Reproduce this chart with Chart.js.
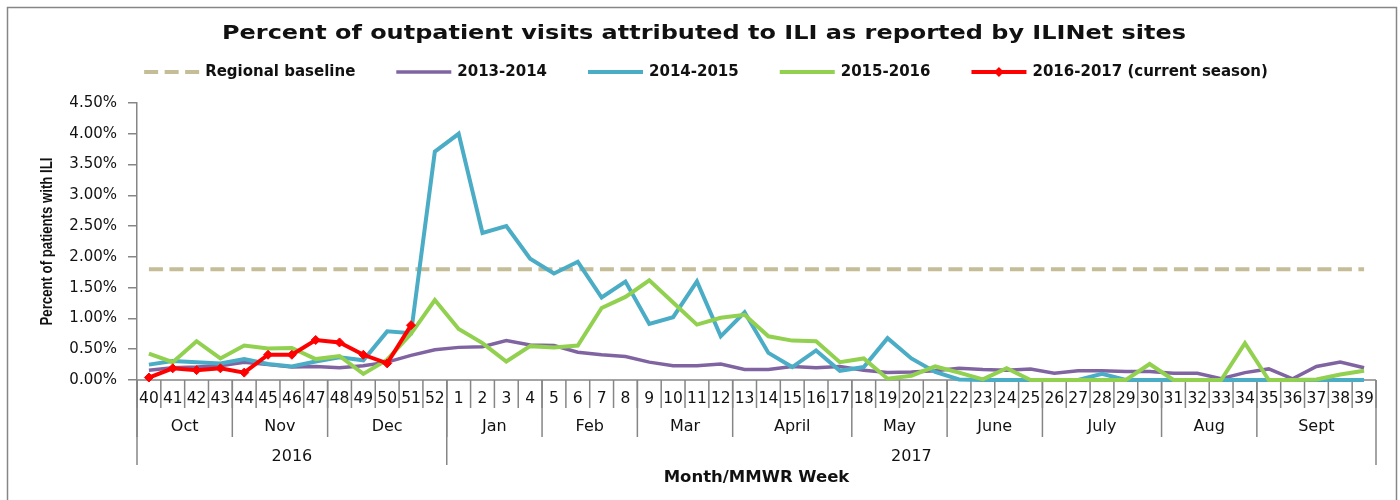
<!DOCTYPE html>
<html>
<head>
<meta charset="utf-8">
<title>ILINet</title>
<script src="https://cdn.jsdelivr.net/npm/chart.js@4.4.1/dist/chart.umd.min.js"></script>
<style>
  html, body { margin: 0; padding: 0; background: #fff; }
  #grafica { display: block; }
</style>
</head>
<body>
<canvas id="grafica" width="1400" height="500"></canvas>
<script>
/* ============ DATOS ============ */
const weeks = ["40","41","42","43","44","45","46","47","48","49","50","51","52",
  "1","2","3","4","5","6","7","8","9","10","11","12","13","14","15","16","17","18","19","20",
  "21","22","23","24","25","26","27","28","29","30","31","32","33","34","35","36","37","38","39"];

const months = ["Oct","Nov","Dec","Jan","Feb","Mar","April","May","June","July","Aug","Sept"];
const monthWeeks = [4, 4, 5, 4, 4, 4, 5, 4, 4, 5, 4, 5];

const years = ["2016", "2017"];
const yearWeeks = [13, 39];

const yTicks = [0, 0.5, 1, 1.5, 2, 2.5, 3, 3.5, 4, 4.5];

const regionalBaseline = 1.8;

const season1314 = [0.16,0.20,0.21,0.23,0.29,0.25,0.21,0.22,0.20,0.23,0.29,0.40,0.49,
  0.53,0.54,0.64,0.57,0.56,0.45,0.41,0.38,0.29,0.23,0.23,0.26,0.17,0.17,0.22,0.20,0.22,0.16,0.12,0.13,
  0.15,0.19,0.17,0.16,0.18,0.11,0.15,0.15,0.14,0.14,0.11,0.11,0.02,0.12,0.18,0.02,0.22,0.29,0.20];

const season1415 = [0.25,0.31,0.29,0.27,0.34,0.26,0.22,0.30,0.37,0.32,0.79,0.76,3.71,
  4.00,2.39,2.50,1.97,1.73,1.92,1.34,1.60,0.91,1.02,1.60,0.71,1.10,0.44,0.21,0.48,0.15,0.21,0.68,0.35,
  0.13,0.01,0,0,0,0,0,0.10,0,0,0,0,0,0,0,0,0,0,0];

const season1516 = [0.43,0.29,0.63,0.35,0.56,0.51,0.52,0.34,0.39,0.10,0.33,0.75,1.30,
  0.83,0.60,0.30,0.55,0.53,0.56,1.17,1.35,1.62,1.26,0.90,1.01,1.06,0.71,0.64,0.63,0.29,0.35,0.02,0.07,
  0.22,0.12,0.01,0.19,0,0,0,0,0,0.26,0,0,0,0.60,0,0,0.01,0.09,0.15];

const season1617 = [0.04,0.19,0.16,0.19,0.12,0.41,0.41,0.65,0.61,0.41,0.27,0.89];

/* ============ ESTILOS ============ */
const GRIS = "#868686";
const TEXTO = "#111";

// texto con ancho fijo (la imagen original está estirada en horizontal)
function textoAjustado(ctx, txt, x, y, ancho) {
  const w = ctx.measureText(txt).width;
  ctx.save();
  ctx.translate(x, y);
  ctx.scale(ancho / w, 1);
  ctx.fillText(txt, 0, 0);
  ctx.restore();
}

/* ============ PLUGIN: MARCO, TÍTULO, LEYENDA Y EJES ============ */
const decorPlugin = {
  id: "decor",
  beforeDraw(chart) {
    const ctx = chart.ctx;
    ctx.save();
    ctx.fillStyle = "#fff";
    ctx.fillRect(0, 0, chart.width, chart.height);
    ctx.strokeStyle = GRIS;
    ctx.lineWidth = 1.5;
    ctx.strokeRect(7.5, 7.5, 1389, 500);
    ctx.restore();
  },
  beforeDatasetsDraw(chart) {
    const ctx = chart.ctx;
    const x = chart.scales.x;
    const area = chart.chartArea;
    const edge = k => x.getPixelForValue(k - 0.5);
    ctx.save();
    ctx.strokeStyle = GRIS;
    ctx.lineWidth = 1.5;

    // línea del eje x
    ctx.beginPath();
    ctx.moveTo(area.left, area.bottom);
    ctx.lineTo(area.right, area.bottom);
    ctx.stroke();

    // separadores de semana
    for (let k = 0; k <= weeks.length; k++) {
      ctx.beginPath();
      ctx.moveTo(edge(k), area.bottom);
      ctx.lineTo(edge(k), area.bottom + 28);
      ctx.stroke();
    }

    // meses
    ctx.fillStyle = TEXTO;
    ctx.font = '16px "DejaVu Sans"';
    ctx.textAlign = "center";
    ctx.textBaseline = "middle";
    let k = 0;
    months.forEach((m, i) => {
      const a = edge(k), b = edge(k + monthWeeks[i]);
      ctx.beginPath();
      ctx.moveTo(a, area.bottom);
      ctx.lineTo(a, area.bottom + 57);
      ctx.stroke();
      ctx.fillText(m, (a + b) / 2, area.bottom + 47);
      k += monthWeeks[i];
    });

    // años
    k = 0;
    years.forEach((y, i) => {
      const a = edge(k), b = edge(k + yearWeeks[i]);
      ctx.beginPath();
      ctx.moveTo(a, area.bottom);
      ctx.lineTo(a, area.bottom + 85);
      ctx.stroke();
      ctx.fillText(y, (a + b) / 2, area.bottom + 77);
      k += yearWeeks[i];
    });
    ctx.beginPath();
    ctx.moveTo(edge(weeks.length), area.bottom);
    ctx.lineTo(edge(weeks.length), area.bottom + 85);
    ctx.stroke();

    // títulos de ejes
    ctx.font = 'bold 16.5px "DejaVu Sans"';
    ctx.fillText("Month/MMWR Week", (area.left + area.right) / 2, 478);
    ctx.save();
    ctx.translate(47, (area.top + area.bottom) / 2);
    ctx.rotate(-Math.PI / 2);
    ctx.font = 'bold 17px "Liberation Sans"';
    textoAjustado(ctx, "Percent of patients with ILI", 0, 0, 168);
    ctx.restore();
    ctx.restore();
  },
  afterDraw(chart) {
    const ctx = chart.ctx;
    ctx.save();
    ctx.fillStyle = TEXTO;
    ctx.textBaseline = "middle";
    ctx.textAlign = "center";
    ctx.font = 'bold 20px "DejaVu Sans"';
    textoAjustado(ctx, "Percent of outpatient visits attributed to ILI as reported by ILINet sites", 704, 34, 964);

    // leyenda
    const orden = [4, 3, 2, 1, 0];
    ctx.font = 'bold 15px "DejaVu Sans"';
    const items = orden.map(i => chart.data.datasets[i]);
    const sample = 55, gap = 6, sep = 41;
    const total = items.reduce((s, d) => s + sample + gap + ctx.measureText(d.label).width, 0) + sep * (items.length - 1);
    let x = 706 - total / 2;
    const y = 72;
    ctx.textAlign = "left";
    items.forEach(d => {
      ctx.strokeStyle = d.borderColor;
      ctx.lineWidth = d.borderWidth;
      ctx.setLineDash(d.borderDash || []);
      ctx.beginPath();
      ctx.moveTo(x, y);
      ctx.lineTo(x + sample, y);
      ctx.stroke();
      ctx.setLineDash([]);
      if (d.pointRadius > 0) {
        const r = 5, cx = x + sample / 2;
        ctx.fillStyle = d.borderColor;
        ctx.beginPath();
        ctx.moveTo(cx, y - r); ctx.lineTo(cx + r, y); ctx.lineTo(cx, y + r); ctx.lineTo(cx - r, y);
        ctx.closePath();
        ctx.fill();
      }
      ctx.fillStyle = TEXTO;
      ctx.fillText(d.label, x + sample + gap, y);
      x += sample + gap + ctx.measureText(d.label).width + sep;
    });
    ctx.restore();
  }
};

/* ============ GRÁFICA ============ */
const serie = (label, data, color, width, order) => ({
  label, data,
  borderColor: color, backgroundColor: color,
  borderWidth: width, pointRadius: 0, tension: 0,
  order, clip: 6
});

const datasets = [
  Object.assign(serie("2016-2017 (current season)", season1617, "#FF0000", 4, 0),
    { pointRadius: 4.5, pointStyle: "rectRot", pointBackgroundColor: "#FF0000", pointBorderColor: "#FF0000", pointBorderWidth: 1 }),
  serie("2015-2016", season1516, "#92D050", 4, 1),
  serie("2014-2015", season1415, "#4BACC6", 4, 2),
  serie("2013-2014", season1314, "#8064A2", 3.5, 3),
  Object.assign(serie("Regional baseline", weeks.map(() => regionalBaseline), "#C4BD97", 4, 4),
    { borderDash: [14, 6.5] })
];

new Chart(document.getElementById("grafica"), {
  type: "line",
  data: { labels: weeks, datasets },
  plugins: [decorPlugin],
  options: {
    responsive: false,
    animation: false,
    devicePixelRatio: 1,
    layout: { padding: { top: 103, right: 24, left: 0, bottom: 0 } },
    plugins: { legend: { display: false }, title: { display: false }, tooltip: { enabled: false } },
    scales: {
      x: {
        type: "category",
        offset: true,
        grid: { display: false, drawTicks: false },
        border: { display: false },
        ticks: {
          autoSkip: false, maxRotation: 0, minRotation: 0, padding: 10,
          color: TEXTO, font: { family: "DejaVu Sans", size: 15.5 }
        },
        afterFit: s => { s.height = 120; }
      },
      y: {
        min: 0, max: 4.5,
        afterBuildTicks: s => { s.ticks = yTicks.map(v => ({ value: v })); },
        grid: { drawOnChartArea: false, drawTicks: true, tickLength: 9, color: GRIS, lineWidth: 1.5 },
        border: { display: true, color: GRIS, width: 1.5 },
        ticks: {
          padding: 11, color: TEXTO, font: { family: "DejaVu Sans", size: 15 },
          callback: v => v.toFixed(2) + "%"
        },
        afterFit: s => { s.width = 137; }
      }
    }
  }
});
</script>
</body>
</html>
